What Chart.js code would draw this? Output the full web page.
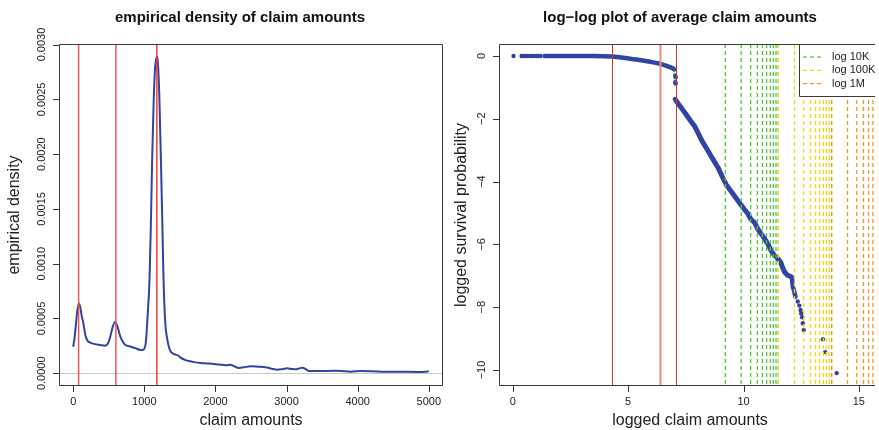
<!DOCTYPE html>
<html lang="en">
<head>
<meta charset="UTF-8">
<title>Claim amounts</title>
<script src="https://cdn.jsdelivr.net/npm/chart.js"></script>
<style>
  html, body { margin: 0; background: #fff; overflow: hidden; }
  #wrap { position: relative; width: 879px; height: 430px; overflow: hidden; }
  canvas { position: absolute; top: 0; left: 0; }
</style>
</head>
<body>
<div id="wrap">
  <canvas id="density" width="879" height="430"></canvas>
  <canvas id="loglog" width="879" height="430"></canvas>
</div>
<script>
// ---- density of claim amounts ----
const densityX = [0, 20, 40, 60, 80, 100, 120, 141, 170, 203, 250, 306, 380, 447, 490, 518, 550, 588, 620, 659,
  700, 729, 800, 870, 930, 974, 1000, 1021, 1049, 1073, 1090, 1110, 1130, 1150, 1165, 1177, 1190, 1210, 1233, 1252,
  1270, 1294, 1320, 1341, 1364, 1420, 1482, 1505, 1580, 1646, 1700, 1787, 1870, 1952, 2050, 2150, 2211, 2260, 2328,
  2400, 2493, 2600, 2705, 2790, 2870, 2950, 3011, 3070, 3128, 3180, 3222, 3270, 3316, 3450, 3669, 3780, 3904, 4045,
  4200, 4374, 4600, 4845, 4950, 5000];
const densityY = [0.000242, 0.00033, 0.00046, 0.00058, 0.000636, 0.0006, 0.00052, 0.000464, 0.00035, 0.000296,
  0.000278, 0.000266, 0.000258, 0.000251, 0.000275, 0.000327, 0.00041, 0.000469, 0.00043, 0.000342,
  0.000285, 0.00026, 0.000245, 0.00023, 0.000215, 0.000212, 0.000225, 0.000282, 0.000554, 0.000857,
  0.0013, 0.00195, 0.00245, 0.00278, 0.00286, 0.00289, 0.00284, 0.00255, 0.00195, 0.0014,
  0.000857, 0.000464, 0.00032, 0.000251, 0.000205, 0.000175, 0.00016, 0.000145, 0.00012, 0.000109,
  0.000102, 0.000094, 0.00009, 0.000087, 0.00008, 0.000074, 0.000078, 0.000065, 0.000048,
  0.000055, 0.000064, 0.00006, 0.000055, 0.000042, 0.000033, 0.00004, 0.000045, 0.00004, 0.000036,
  0.000045, 0.000051, 0.000038, 0.000021, 0.00002, 0.000024, 0.000022, 0.000015, 0.000021,
  0.000019, 0.000015, 0.000014, 0.000012, 0.000014, 0.000018];
const densityXTicks = [0, 1000, 2000, 3000, 4000, 5000];
const densityYTicks = [0, 0.0005, 0.001, 0.0015, 0.002, 0.0025, 0.003];
const densityMarks = [76, 600, 1176];

// ---- log-log survival ----
const flatDotsX = [0.03, 0.38, 0.47, 0.55, 0.62, 0.74, 0.84, 0.93, 1.03, 1.12, 1.2];
const flatDotsY = [0, 0, 0, 0, 0, 0, 0, 0, 0, 0, 0];
const headX = [1.38, 2.5, 3.5, 4.3, 4.8, 5.17, 5.5, 5.89, 6.2, 6.39, 6.6, 6.75, 6.9, 7.0];
const headY = [0, 0, -0.005, -0.02, -0.06, -0.1, -0.13, -0.18, -0.22, -0.25, -0.3, -0.34, -0.38, -0.43];
const jumpX = [7.04, 7.06, 7.04, 7.06];
const jumpY = [-0.62, -0.68, -0.84, -0.88];
const bodyX = [7.04, 7.1, 7.32, 7.5, 7.68, 7.89, 8.05, 8.18, 8.4, 8.61, 8.75, 8.89, 9.05, 9.25, 9.5, 9.75, 10.0,
  10.18, 10.32, 10.47, 10.6, 10.75, 10.9, 11.04, 11.2, 11.33, 11.45, 11.54, 11.62, 11.68, 11.78, 11.9, 12.07];
const bodyY = [-1.38, -1.45, -1.67, -1.85, -2.04, -2.25, -2.48, -2.68, -2.95, -3.21, -3.38, -3.55, -3.8, -4.1,
  -4.35, -4.6, -4.85, -5.02, -5.2, -5.3, -5.48, -5.65, -5.8, -5.97, -6.2, -6.34, -6.42, -6.5, -6.58, -6.71,
  -6.88, -6.98, -7.03];
const stepX = [12.1, 12.14, 12.2, 12.25];
const stepY = [-7.1, -7.35, -7.5, -7.67];
const tailX = [12.35, 12.42, 12.47, 12.5, 12.54, 12.57, 12.61, 13.44, 13.54, 14.04];
const tailY = [-7.82, -7.95, -8.09, -8.2, -8.32, -8.51, -8.73, -9.02, -9.43, -10.1];
const loglogXTicks = [0, 5, 10, 15];
const loglogYTicks = [0, -2, -4, -6, -8, -10];
const loglogMarks = [4.32, 6.4, 7.06];
const log10K = [9.21, 9.9, 10.31, 10.6, 10.82, 11.0, 11.16, 11.29, 11.41, 11.51];
const log100K = [11.51, 12.21, 12.61, 12.9, 13.12, 13.3, 13.46, 13.59, 13.71, 13.82];
const log1M = [13.82, 14.51, 14.91, 15.2, 15.42, 15.61];

const BLUE = '#3143a3';
const FONT = '"Liberation Sans", Arial, sans-serif';
const pts = (xs, ys) => xs.map((x, i) => ({ x: x, y: ys[i] }));
const minus = s => s.replace(/-/g, '\u2212');

// R-like base graphics frame: box, outside ticks, rotated y labels, titles
function rAxes(cfg) {
  return {
    id: 'rAxes',
    beforeDatasetsDraw(chart) {
      if (!cfg.zeroLine) return;
      const { ctx, chartArea: a, scales: { y } } = chart;
      const py = Math.round(y.getPixelForValue(0)) + 0.5;
      ctx.save();
      ctx.strokeStyle = '#c8c8c8';
      ctx.lineWidth = 1;
      ctx.beginPath(); ctx.moveTo(a.left, py); ctx.lineTo(a.right, py); ctx.stroke();
      ctx.restore();
    },
    afterDatasetsDraw(chart) {
      const { ctx, chartArea: a, scales: { x } } = chart;
      ctx.save();
      ctx.beginPath(); ctx.rect(a.left, a.top, a.right - a.left, a.bottom - a.top); ctx.clip();
      cfg.vlines.forEach(l => {
        const w = l.width || 1;
        let px = x.getPixelForValue(l.v);
        if (w === 1) px = Math.round(px) + 0.5;
        ctx.strokeStyle = l.color;
        ctx.lineWidth = w;
        ctx.setLineDash(l.dash || []);
        ctx.beginPath(); ctx.moveTo(px, a.top); ctx.lineTo(px, a.bottom); ctx.stroke();
      });
      ctx.restore();
    },
    afterDraw(chart) {
      const { ctx, chartArea: a, scales: { x, y } } = chart;
      const L = a.left + 0.5, T = a.top + 0.5, B = a.bottom - 0.5, R = a.right - 0.5;
      ctx.save();
      ctx.strokeStyle = '#3a3a3a';
      ctx.lineWidth = 1;
      // legend box, open on the right where the plot runs past the page edge
      if (cfg.legend) {
        const lg = cfg.legend;
        const lx = lg.left + 0.5, lb = lg.bottom + 0.5;
        ctx.fillStyle = '#fff';
        ctx.fillRect(lg.left, a.top, a.right - lg.left, lg.bottom - a.top);
        ctx.beginPath();
        ctx.moveTo(a.right, lb); ctx.lineTo(lx, lb); ctx.lineTo(lx, T);
        ctx.stroke();
        ctx.font = '11px ' + FONT;
        ctx.textBaseline = 'middle';
        ctx.textAlign = 'left';
        lg.items.forEach((it, i) => {
          const cy = a.top + 13 + i * 13.3;
          ctx.strokeStyle = it.color;
          ctx.lineWidth = 1.3;
          ctx.setLineDash([4, 3]);
          ctx.beginPath(); ctx.moveTo(lg.left + 4, cy); ctx.lineTo(lg.left + 24, cy); ctx.stroke();
          ctx.setLineDash([]);
          ctx.fillStyle = '#222';
          ctx.fillText(it.label, lg.left + 33, cy);
        });
        ctx.strokeStyle = '#3a3a3a';
        ctx.lineWidth = 1;
      }
      // frame
      ctx.beginPath();
      if (cfg.openRight) {
        ctx.moveTo(a.right, T); ctx.lineTo(L, T); ctx.lineTo(L, B); ctx.lineTo(a.right, B);
      } else {
        ctx.rect(L, T, R - L, B - T);
      }
      ctx.stroke();
      // x axis
      ctx.fillStyle = '#222';
      ctx.font = '11px ' + FONT;
      ctx.textAlign = 'center';
      ctx.textBaseline = 'middle';
      const xt = cfg.xTicks;
      ctx.beginPath();
      xt.forEach(v => {
        const px = Math.round(x.getPixelForValue(v)) + 0.5;
        ctx.moveTo(px, a.bottom); ctx.lineTo(px, a.bottom + 6);
      });
      ctx.stroke();
      xt.forEach(v => ctx.fillText(cfg.xFmt(v), x.getPixelForValue(v), a.bottom + 16));
      // y axis
      const yt = cfg.yTicks;
      ctx.beginPath();
      yt.forEach(v => {
        const py = Math.round(y.getPixelForValue(v)) + 0.5;
        ctx.moveTo(a.left, py); ctx.lineTo(a.left - 6, py);
      });
      ctx.stroke();
      yt.forEach(v => {
        ctx.save();
        ctx.translate(a.left - 17, y.getPixelForValue(v));
        ctx.rotate(-Math.PI / 2);
        ctx.fillText(cfg.yFmt(v), 0, 0);
        ctx.restore();
      });
      // axis titles
      ctx.font = '16px ' + FONT;
      ctx.fillText(cfg.xTitle, cfg.xTitleX, a.bottom + 35);
      ctx.save();
      ctx.translate(cfg.yTitleX, (a.top + a.bottom) / 2);
      ctx.rotate(-Math.PI / 2);
      ctx.fillText(cfg.yTitle, 0, 0);
      ctx.restore();
      // main title
      ctx.font = 'bold 15px ' + FONT;
      ctx.fillStyle = '#111';
      ctx.fillText(cfg.title, cfg.titleX, 18);
      ctx.restore();
    }
  };
}

const common = {
  responsive: false,
  animation: false,
  events: [],
  plugins: { legend: { display: false }, tooltip: { enabled: false } }
};

new Chart(document.getElementById('density'), {
  type: 'scatter',
  data: {
    datasets: [{
      data: pts(densityX, densityY),
      showLine: true,
      borderColor: BLUE,
      borderWidth: 2,
      pointRadius: 0,
      tension: 0.4,
      cubicInterpolationMode: 'monotone'
    }]
  },
  options: Object.assign({}, common, {
    layout: { padding: { left: 59, right: 436, top: 44, bottom: 44 } },
    scales: {
      x: { type: 'linear', display: false, min: -200, max: 5200 },
      y: { type: 'linear', display: false, min: -0.000116, max: 0.003005 }
    }
  }),
  plugins: [rAxes({
    title: 'empirical density of claim amounts',
    titleX: 240,
    xTitle: 'claim amounts',
    xTitleX: 251,
    yTitle: 'empirical density',
    yTitleX: 15,
    xTicks: densityXTicks,
    yTicks: densityYTicks,
    xFmt: v => String(v),
    yFmt: v => v.toFixed(4),
    zeroLine: true,
    vlines: [
      { v: densityMarks[0], color: '#f0584e', width: 1.5 },
      { v: densityMarks[1], color: '#f0584e', width: 1.5 },
      { v: densityMarks[2], color: '#f03c32', width: 1.5 }
    ]
  })]
});

const dotSet = (xs, ys) => ({
  data: pts(xs, ys), showLine: false, pointRadius: 2.2, pointBorderWidth: 0,
  pointBackgroundColor: BLUE, borderColor: BLUE
});
const bandSet = (xs, ys, w) => ({
  data: pts(xs, ys), showLine: true, pointRadius: 0, borderWidth: w,
  borderColor: BLUE, borderCapStyle: 'round', borderJoinStyle: 'round', tension: 0
});

const dashed = (vals, color) => vals.map(v => ({ v: v, color: color, width: 1.3, dash: [4, 3] }));

new Chart(document.getElementById('loglog'), {
  type: 'scatter',
  data: {
    datasets: [
      dotSet(flatDotsX, flatDotsY),
      bandSet(headX, headY, 4.5),
      dotSet(jumpX, jumpY),
      bandSet(bodyX, bodyY, 5),
      bandSet(stepX, stepY, 4.5),
      dotSet(tailX, tailY)
    ]
  },
  options: Object.assign({}, common, {
    layout: { padding: { left: 499, right: 0, top: 44, bottom: 44 } },
    scales: {
      x: { type: 'linear', display: false, min: -0.6, max: 15.7 },
      y: { type: 'linear', display: false, min: -10.51, max: 0.38 }
    }
  }),
  plugins: [rAxes({
    title: minus('log-log plot of average claim amounts'),
    titleX: 680,
    xTitle: 'logged claim amounts',
    xTitleX: 690,
    yTitle: 'logged survival probability',
    yTitleX: 462,
    xTicks: loglogXTicks,
    yTicks: loglogYTicks,
    xFmt: v => String(v),
    yFmt: v => minus(String(v)),
    zeroLine: false,
    openRight: true,
    vlines: [
      { v: loglogMarks[0], color: '#d0342a' },
      { v: loglogMarks[1], color: '#f08a80', width: 2 },
      { v: loglogMarks[2], color: '#d0342a' }
    ].concat(dashed(log10K, '#55c23a'), dashed(log100K, '#f0d810'), dashed(log1M, '#f8941c')),
    legend: {
      left: 799,
      bottom: 96,
      items: [
        { label: 'log 10K', color: '#6fcf58' },
        { label: 'log 100K', color: '#f0d810' },
        { label: 'log 1M', color: '#f8941c' }
      ]
    }
  })]
});
</script>
</body>
</html>
